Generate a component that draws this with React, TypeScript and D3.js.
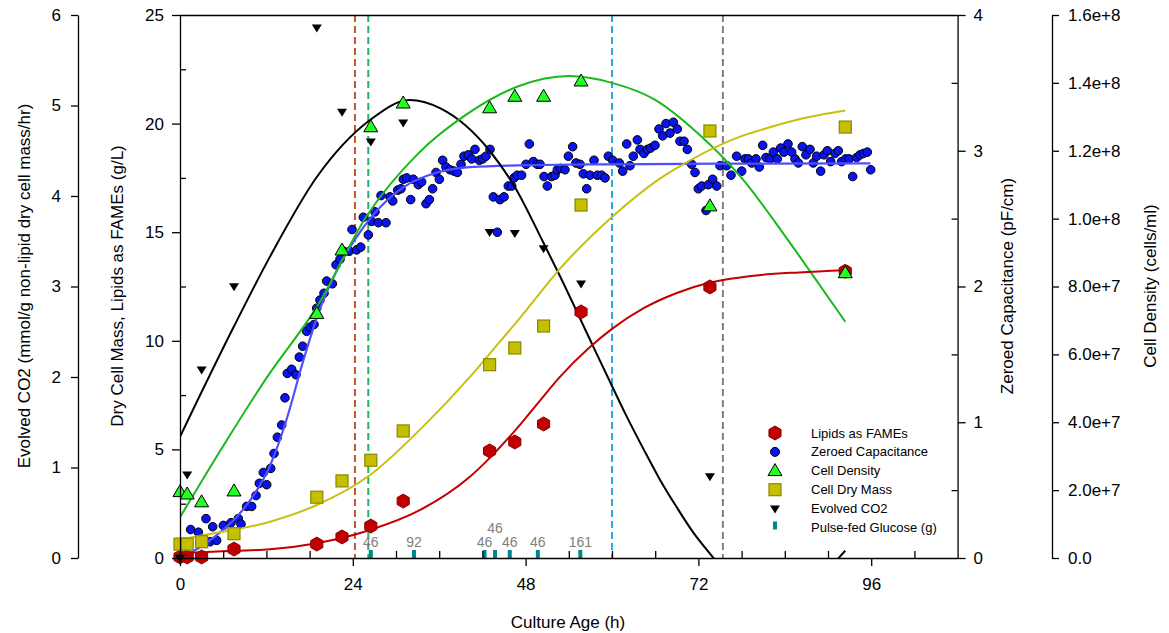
import React, { useEffect, useRef } from 'react';
import * as d3 from 'd3';

// offline samples (culture age, h)
const sampleHours = [0, 1, 3, 7.5, 19, 22.5, 26.5, 31, 43, 46.5, 50.5, 55.7, 73.6, 92.4];
const lipids = [0.05, 0.05, 0.05, 0.41, 0.64, 0.97, 1.47, 2.62, 4.93, 5.34, 6.17, 11.33, 12.48, 13.2];
const dryMass = [0.64, 0.64, 0.75, 1.12, 2.8, 3.55, 4.5, 5.85, 8.9, 9.67, 10.68, 16.25, 19.66, 19.84];
const cellDensity = [1.95e7, 1.88e7, 1.65e7, 1.97e7, 7.2e7, 9.07e7, 12.7e7, 13.4e7, 13.26e7, 13.6e7, 13.6e7, 14.05e7, 10.37e7, 8.4e7];

const co2Hours = [0, 1, 3, 7.5, 19, 22.5, 26.5, 31, 43, 46.5, 50.5, 55.7, 73.6];
const co2Values = [0, 0.92, 2.08, 3.0, 5.86, 4.93, 4.6, 4.81, 3.6, 3.59, 3.42, 3.03, 0.9];

// online capacitance probe
const capHours = [
  1.48, 2.55, 3.61, 4.17, 4.54, 5.09, 6.02, 7.08, 8.1, 8.47, 9.26, 9.95, 10.56, 11.02, 11.57, 12.04, 12.6, 13.06,
  13.52, 14.12, 14.58, 14.9, 15.51, 16.11, 16.57, 17.04, 17.59, 18.06, 18.61, 18.98, 19.44, 20.0, 20.37, 21.16,
  21.67, 22.22, 22.69, 23.52, 23.89, 24.54, 25.1, 25.46, 26.16, 26.62, 27.08, 27.55, 27.92, 28.61, 29.17, 29.54,
  30.23, 30.69, 31.02, 31.48, 32.04, 32.41, 33.1, 33.56, 34.17, 34.63, 35.09, 35.56, 36.02, 36.48, 36.94, 37.5,
  38.06, 38.52, 39.03, 39.44, 40.05, 40.51, 40.97, 41.57, 42.04, 42.5, 43.06, 43.52, 44.07, 44.44, 45.0, 45.6,
  46.07, 46.39, 46.85, 47.45, 48.06, 48.52, 49.07, 49.63, 50.0, 50.56, 51.02, 51.62, 52.08, 52.41, 52.87, 53.47,
  53.94, 54.54, 55.0, 55.56, 56.02, 56.48, 56.94, 57.5, 57.96, 58.56, 59.03, 59.49, 60.09, 61.02, 61.48, 62.04,
  62.5, 62.96, 63.52, 63.89, 64.44, 64.91, 65.37, 65.97, 66.53, 67.04, 67.5, 68.06, 68.52, 69.07, 69.44, 70.0,
  70.46, 71.07, 71.53, 71.99, 72.45, 73.06, 73.38, 73.98, 74.54, 75.0, 75.93, 76.53, 77.31, 78.01, 78.47, 78.94,
  79.4, 80.0, 80.46, 80.93, 81.39, 81.94, 82.41, 82.96, 83.43, 83.89, 84.44, 84.95, 85.42, 85.88, 86.43, 86.94,
  87.5, 87.96, 88.43, 88.98, 89.44, 89.91, 90.37, 90.97, 91.43, 91.9, 92.45, 92.92, 93.43, 93.98, 94.44, 94.91,
  95.46, 95.93
];
const capValues = [
  0.21, 0.19, 0.29, 0.12, 0.23, 0.13, 0.24, 0.26, 0.29, 0.25, 0.38, 0.38, 0.46, 0.55, 0.63, 0.54, 0.66, 0.77,
  0.89, 0.98, 1.18, 1.36, 1.39, 1.35, 1.48, 1.56, 1.67, 1.7, 1.72, 1.84, 1.9, 1.95, 2.04, 2.02,
  2.16, 2.2, 2.26, 2.26, 2.42, 2.27, 2.29, 2.51, 2.38, 2.48, 2.55, 2.47, 2.67, 2.47, 2.66, 2.63,
  2.71, 2.72, 2.79, 2.8, 2.64, 2.79, 2.75, 2.77, 2.61, 2.64, 2.72, 2.84, 2.79, 2.93, 2.88, 2.86,
  2.85, 2.84, 2.9, 2.96, 2.97, 2.94, 3.01, 2.93, 2.94, 2.96, 3.01, 2.66, 2.4, 2.64, 2.66, 2.74,
  2.74, 2.8, 2.82, 2.82, 2.9, 3.05, 2.92, 2.9, 2.9, 2.81, 2.74, 2.81, 2.82, 2.86, 2.87, 2.86,
  2.96, 3.03, 2.91, 2.9, 2.83, 2.72, 2.82, 2.93, 2.82, 2.82, 2.8, 2.96, 2.93, 2.91, 2.85, 3.05,
  2.89, 2.96, 3.08, 3.01, 2.98, 3.01, 3.02, 3.04, 3.16, 3.11, 3.2, 3.13, 3.21, 3.16, 3.07, 3.07,
  3.01, 2.9, 2.84, 2.72, 2.74, 2.56, 2.75, 2.79, 2.74, 2.89, 2.89, 2.82, 2.96, 2.85, 2.94, 2.94,
  2.91, 2.94, 2.88, 3.04, 2.95, 2.94, 2.99, 2.94, 3.02, 2.99, 3.05, 2.99, 2.94, 2.91, 3.03, 2.97,
  3.01, 2.91, 2.96, 2.85, 2.97, 3.0, 2.92, 2.98, 3.0, 2.92, 2.94, 2.94, 2.81, 2.95, 2.97, 2.98,
  2.99, 2.86
];

// fitted curves
const capFitHours = [0.2, 2.5, 5.6, 8, 10.2, 12.5, 14.8, 17.1, 19.4, 21.8, 24.1, 26.4, 31, 35.7, 40.3, 50, 60, 75, 95.9];
const capFitValues = [0.01, 0.07, 0.19, 0.31, 0.46, 0.68, 1.02, 1.45, 1.83, 2.12, 2.33, 2.5, 2.73, 2.84, 2.88, 2.895, 2.9, 2.905, 2.907];

const lipidFitHours = [0, 7.4, 12.5, 19, 26.4, 33.3, 40.3, 43, 46.5, 50, 52.8, 56.9, 60, 64.4, 69, 73.6, 80.6, 86, 92.4];
const lipidFitValues = [0.22, 0.33, 0.4, 0.68, 1.29, 2.2, 3.75, 4.6, 5.85, 7.25, 8.35, 9.7, 10.55, 11.5, 12.2, 12.68, 13.03, 13.15, 13.25];

const massFitHours = [0, 3.2, 12.5, 19, 26.4, 33.3, 40.3, 43, 47.2, 53, 60, 66.7, 70.8, 77.8, 80.6, 86, 92.4];
const massFitValues = [0.85, 1.05, 1.67, 2.44, 3.82, 5.9, 8.35, 9.4, 11.04, 13.4, 15.7, 17.48, 18.3, 19.4, 19.7, 20.2, 20.6];

const densityFitHours = [0, 6, 12, 19, 26, 33, 40, 47, 54, 60, 66, 72, 78, 84, 88, 92.4];
const densityFitValues = [1.2e7, 3.3e7, 5.3e7, 7.4e7, 10.1e7, 11.9e7, 13.1e7, 13.9e7, 14.2e7, 14.0e7, 13.5e7, 12.5e7, 11.2e7, 9.5e7, 8.3e7, 6.96e7];

const co2FitHours = [0, 7.5, 12.5, 19, 26.4, 31.9, 36.1, 43, 46.5, 50.5, 52.8, 56.9, 60, 62, 64.4, 66.7, 69, 71.3, 74.1, 78, 84, 89, 91.5, 92.4];
const co2FitValues = [1.34, 2.56, 3.33, 4.21, 4.84, 5.06, 4.97, 4.5, 4.1, 3.48, 3.11, 2.42, 1.9, 1.57, 1.2, 0.86, 0.56, 0.28, 0.0, -0.4, -0.65, -0.35, 0.0, 0.08];

// pulse-fed glucose additions
const glucoseHours = [26.5, 32.5, 42.3, 43.75, 45.8, 49.7, 55.6];
const glucoseGrams = [46, 92, 46, 46, 46, 46, 161];

// phase markers (h)
const phaseHours = [24.3, 26.15, 60, 75.4];
const phaseColors = ['#c0582f', '#1fb36a', '#29abe2', '#808080'];

// axis ticks
const xMajorTicks = [0, 24, 48, 72, 96];
const xMinorTicks = [6, 12, 18, 30, 36, 42, 54, 60, 66, 78, 84, 90, 102];
const massTicks = [0, 5, 10, 15, 20, 25];
const massMinorTicks = [2.5, 7.5, 12.5, 17.5, 22.5];
const co2Ticks = [0, 1, 2, 3, 4, 5, 6];
const capTicks = [0, 1, 2, 3, 4];
const capMinorTicks = [0.5, 1.5, 2.5, 3.5];
const densityTicks = [0, 2e7, 4e7, 6e7, 8e7, 1e8, 1.2e8, 1.4e8, 1.6e8];

const legendLabels = ['Lipids as FAMEs', 'Zeroed Capacitance', 'Cell Density', 'Cell Dry Mass', 'Evolved CO2', 'Pulse-fed Glucose (g)'];

const FONT = '"Liberation Sans", Arial, sans-serif';

const hexPath = (r) => {
  const pts = d3.range(6).map(i => {
    const a = -Math.PI / 2 + i * Math.PI / 3;
    return [r * Math.cos(a), r * Math.sin(a)];
  });
  return 'M' + pts.map(p => p.join(',')).join('L') + 'Z';
};
const triUp = (w, h) => `M0,${-h * 0.6}L${w / 2},${h * 0.4}L${-w / 2},${h * 0.4}Z`;
const triDown = (w, h) => `M0,${h * 0.6}L${w / 2},${-h * 0.4}L${-w / 2},${-h * 0.4}Z`;

function App() {
  const ref = useRef(null);

  useEffect(() => {
    const svg = d3.select(ref.current);
    svg.selectAll('*').remove();

    const L = 180, R = 957.6, T = 15, B = 558;
    const x = d3.scaleLinear().domain([0, 108]).range([L, R]);
    const yMass = d3.scaleLinear().domain([0, 25]).range([B, T]);
    const yCo2 = d3.scaleLinear().domain([0, 6]).range([B, T]);
    const yCap = d3.scaleLinear().domain([0, 4]).range([B, T]);
    const yDens = d3.scaleLinear().domain([0, 1.6e8]).range([B, T]);

    svg.append('defs').append('clipPath').attr('id', 'plotClip')
      .append('rect').attr('x', L).attr('y', T).attr('width', R - L).attr('height', B - T);

    // phase marker lines
    svg.append('g').selectAll('line').data(phaseHours).enter().append('line')
      .attr('x1', d => x(d)).attr('x2', d => x(d))
      .attr('y1', T).attr('y2', B)
      .attr('stroke', (d, i) => phaseColors[i])
      .attr('stroke-width', 2)
      .attr('stroke-dasharray', '7,4');

    // capacitance points
    svg.append('g').selectAll('circle').data(capHours).enter().append('circle')
      .attr('cx', d => x(d)).attr('cy', (d, i) => yCap(capValues[i]))
      .attr('r', 4.3).attr('fill', '#0a14f0').attr('stroke', '#000').attr('stroke-width', 1);

    // fitted curves
    const curves = svg.append('g').attr('clip-path', 'url(#plotClip)');
    const drawFit = (hours, values, y, color, width) => {
      const line = d3.line().x(d => x(d[0])).y(d => y(d[1])).curve(d3.curveMonotoneX);
      curves.append('path').datum(hours.map((h, i) => [h, values[i]]))
        .attr('d', line).attr('fill', 'none').attr('stroke', color).attr('stroke-width', width);
    };
    drawFit(capFitHours, capFitValues, yCap, '#4f4fff', 2.2);
    drawFit(co2FitHours, co2FitValues, yCo2, '#000000', 2);
    drawFit(densityFitHours, densityFitValues, yDens, '#1ab81a', 2);
    drawFit(massFitHours, massFitValues, yMass, '#c8c010', 2);
    drawFit(lipidFitHours, lipidFitValues, yMass, '#c40000', 2);

    // lipids
    svg.append('g').selectAll('path').data(sampleHours).enter().append('path')
      .attr('d', hexPath(7))
      .attr('transform', (d, i) => `translate(${x(d)},${yMass(lipids[i])})`)
      .attr('fill', '#c00000').attr('stroke', '#8a0000').attr('stroke-width', 1);

    // dry mass
    svg.append('g').selectAll('rect').data(sampleHours).enter().append('rect')
      .attr('x', d => x(d) - 6).attr('y', (d, i) => yMass(dryMass[i]) - 6)
      .attr('width', 12).attr('height', 12)
      .attr('fill', '#c4c000').attr('stroke', '#8a8700').attr('stroke-width', 1.2);

    // cell density
    svg.append('g').selectAll('path').data(sampleHours).enter().append('path')
      .attr('d', triUp(14, 12))
      .attr('transform', (d, i) => `translate(${x(d)},${yDens(cellDensity[i])})`)
      .attr('fill', '#22ff22').attr('stroke', '#000').attr('stroke-width', 1);

    // evolved CO2
    svg.append('g').selectAll('path').data(co2Hours).enter().append('path')
      .attr('d', triDown(10, 8))
      .attr('transform', (d, i) => `translate(${x(d)},${yCo2(co2Values[i])})`)
      .attr('fill', '#000');

    // glucose pulses
    const glu = svg.append('g');
    glu.selectAll('rect').data(glucoseHours).enter().append('rect')
      .attr('x', d => x(d) - 2).attr('y', B - 8).attr('width', 4).attr('height', 8)
      .attr('fill', '#00868a');
    glu.selectAll('text').data(glucoseHours).enter().append('text')
      .attr('x', d => x(d))
      .attr('y', (d, i) => (i > 0 && x(d) - x(glucoseHours[i - 1]) < 12 ? B - 25 : B - 11))
      .attr('text-anchor', 'middle')
      .style('font-family', FONT).style('font-size', '14px').attr('fill', '#808080')
      .text((d, i) => glucoseGrams[i]);

    // axes
    const styleAxis = (g) => {
      g.selectAll('line').attr('stroke', '#000').attr('stroke-width', 1.3);
      g.selectAll('path.domain').attr('stroke', '#000').attr('stroke-width', 1.3);
      g.selectAll('text').style('font-family', FONT).style('font-size', '17px').attr('fill', '#000');
    };
    const minor = (g) => {
      g.select('path.domain').remove();
      g.selectAll('line').attr('stroke', '#000').attr('stroke-width', 1.3);
    };
    const intFmt = d3.format('d');

    // top frame
    svg.append('line').attr('x1', L).attr('x2', R).attr('y1', T + 0.5).attr('y2', T + 0.5)
      .attr('stroke', '#000').attr('stroke-width', 1.3);

    svg.append('g').attr('transform', `translate(0,${B})`)
      .call(d3.axisBottom(x).tickValues(xMajorTicks).tickSize(8).tickSizeOuter(0).tickPadding(12).tickFormat(intFmt))
      .call(styleAxis);
    svg.append('g').attr('transform', `translate(0,${B})`)
      .call(d3.axisBottom(x).tickValues(xMinorTicks).tickSize(-7).tickFormat(() => ''))
      .call(minor);

    svg.append('g').attr('transform', `translate(${L},0)`)
      .call(d3.axisLeft(yMass).tickValues(massTicks).tickSize(8).tickSizeOuter(0).tickPadding(8).tickFormat(intFmt))
      .call(styleAxis);
    svg.append('g').attr('transform', `translate(${L},0)`)
      .call(d3.axisLeft(yMass).tickValues(massMinorTicks).tickSize(-6).tickFormat(() => ''))
      .call(minor);

    svg.append('g').attr('transform', `translate(78,0)`)
      .call(d3.axisLeft(yCo2).tickValues(co2Ticks).tickSize(7).tickSizeOuter(0).tickPadding(10).tickFormat(intFmt))
      .call(styleAxis);

    svg.append('g').attr('transform', `translate(${R},0)`)
      .call(d3.axisRight(yCap).tickValues(capTicks).tickSize(8).tickSizeOuter(0).tickPadding(8).tickFormat(intFmt))
      .call(styleAxis);
    svg.append('g').attr('transform', `translate(${R},0)`)
      .call(d3.axisRight(yCap).tickValues(capMinorTicks).tickSize(-6).tickFormat(() => ''))
      .call(minor);

    svg.append('g').attr('transform', `translate(1052,0)`)
      .call(d3.axisRight(yDens).tickValues(densityTicks).tickSize(7).tickSizeOuter(0).tickPadding(9)
        .tickFormat(d => (d === 0 ? '0.0' : d3.format('.1e')(d))))
      .call(styleAxis);

    // axis titles
    const title = (tx, ty, rot, text) => svg.append('text')
      .attr('transform', `translate(${tx},${ty}) rotate(${rot})`)
      .attr('text-anchor', 'middle')
      .style('font-family', FONT).style('font-size', '17px')
      .text(text);
    title(30, 286, -90, 'Evolved CO2 (mmol/g non-lipid dry cell mass/hr)');
    title(123, 286, -90, 'Dry Cell Mass, Lipids as FAMEs (g/L)');
    title(1013, 286, -90, 'Zeroed Capacitance (pF/cm)');
    title(1156, 286, -90, 'Cell Density (cells/ml)');
    title(568, 628, 0, 'Culture Age (h)');

    // legend
    const lg = svg.append('g').attr('transform', 'translate(775,433)');
    const rowH = 18.9;
    lg.append('path').attr('d', hexPath(7)).attr('fill', '#c00000').attr('stroke', '#8a0000');
    lg.append('circle').attr('cy', rowH).attr('r', 4.5).attr('fill', '#0a14f0').attr('stroke', '#000');
    lg.append('path').attr('d', triUp(14, 12)).attr('transform', `translate(0,${rowH * 2})`)
      .attr('fill', '#22ff22').attr('stroke', '#000');
    lg.append('rect').attr('x', -6).attr('y', rowH * 3 - 6).attr('width', 12).attr('height', 12)
      .attr('fill', '#c4c000').attr('stroke', '#8a8700').attr('stroke-width', 1.2);
    lg.append('path').attr('d', triDown(10, 8)).attr('transform', `translate(0,${rowH * 4})`).attr('fill', '#000');
    lg.append('rect').attr('x', -2).attr('y', rowH * 5 - 6).attr('width', 4).attr('height', 8).attr('fill', '#00868a');
    lg.selectAll('text.lbl').data(legendLabels).enter().append('text')
      .attr('x', 36).attr('y', (d, i) => i * rowH + 4.5)
      .style('font-family', FONT).style('font-size', '13px')
      .text(d => d);
  }, []);

  return (
    <svg ref={ref} width={1169} height={633}
      style={{ position: 'absolute', left: 0, top: 0, background: '#fff' }} />
  );
}

export default App;
